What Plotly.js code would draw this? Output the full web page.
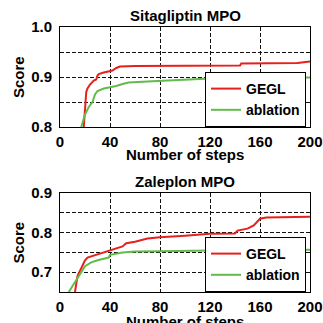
<!DOCTYPE html>
<html><head><meta charset="utf-8">
<script src="https://cdn.plot.ly/plotly-3.0.1.min.js"></script>
<style>body{margin:0;padding:0;background:#fff}#c{width:323px;height:323px}</style>
</head><body><div id="c"></div>
<script>
// Sitagliptin MPO
const sitaGeglX = [19, 20, 21, 22, 24, 27, 29, 30, 31, 35, 40, 42, 45, 48, 60, 100, 144, 145, 180, 190, 200];
const sitaGeglY = [0.800, 0.850, 0.870, 0.877, 0.885, 0.893, 0.895, 0.903, 0.906, 0.909, 0.912, 0.913, 0.918, 0.921, 0.922, 0.923, 0.923, 0.927, 0.927, 0.928, 0.931];
const sitaAblX = [17, 20, 23, 26, 28, 30, 35, 40, 45, 50, 55, 70, 80, 100, 120, 150, 200];
const sitaAblY = [0.800, 0.825, 0.840, 0.850, 0.865, 0.872, 0.877, 0.879, 0.882, 0.886, 0.889, 0.891, 0.892, 0.895, 0.897, 0.898, 0.899];
// Zaleplon MPO
const zalGeglX = [12, 14, 17, 20, 22, 30, 40, 50, 53, 60, 70, 80, 100, 120, 140, 142, 150, 155, 160, 165, 200];
const zalGeglY = [0.650, 0.690, 0.710, 0.730, 0.737, 0.745, 0.756, 0.765, 0.773, 0.777, 0.785, 0.788, 0.792, 0.797, 0.798, 0.805, 0.810, 0.818, 0.835, 0.838, 0.840];
const zalAblX = [7, 10, 15, 20, 25, 30, 39, 40, 50, 60, 80, 120, 200];
const zalAblY = [0.650, 0.665, 0.690, 0.715, 0.725, 0.730, 0.737, 0.744, 0.750, 0.752, 0.753, 0.755, 0.757];

const xTitle = 'Number of steps', yTitle = 'Score';
const RED = '#e8201c', GREEN = '#62bb4a';
const FAM = 'Liberation Sans, Arial, sans-serif';
const TICKF = {family: FAM, size: 15, color: '#000', weight: 'bold'};
const TITLEF = {family: FAM, size: 15, color: '#000', weight: 'bold'};

const traces = [
  {x: sitaGeglX, y: sitaGeglY, name: 'GEGL', mode: 'lines', line: {color: RED, width: 2}, xaxis: 'x', yaxis: 'y', legend: 'legend'},
  {x: sitaAblX, y: sitaAblY, name: 'ablation', mode: 'lines', line: {color: GREEN, width: 2}, xaxis: 'x', yaxis: 'y', legend: 'legend'},
  {x: zalGeglX, y: zalGeglY, name: 'GEGL', mode: 'lines', line: {color: RED, width: 2}, xaxis: 'x2', yaxis: 'y2', legend: 'legend2'},
  {x: zalAblX, y: zalAblY, name: 'ablation', mode: 'lines', line: {color: GREEN, width: 2}, xaxis: 'x2', yaxis: 'y2', legend: 'legend2'}
];

const GD = '4px,2px';
function xa(anchor) {
  return {anchor: anchor, range: [0, 200], dtick: 40, tick0: 0, showline: true, mirror: true, linecolor: '#000', linewidth: 1,
    showgrid: true, gridcolor: '#111', griddash: GD, gridwidth: 1, zeroline: false, ticks: '', tickfont: TICKF,
    ticklabelstandoff: 1, domain: [0, 1]};
}
function ya(anchor, range, dom) {
  return {anchor: anchor, range: range, dtick: 0.1, tick0: 0, tickformat: '.1f', showline: true, mirror: true, linecolor: '#000', linewidth: 1,
    showgrid: true, gridcolor: '#111', griddash: GD, gridwidth: 1, zeroline: false, ticks: '', tickfont: TICKF,
    ticklabelstandoff: 4,
    minor: {dtick: 0.05, tick0: 0, showgrid: true, gridcolor: '#111', griddash: GD, gridwidth: 1},
    domain: dom};
}

const legStyle = {font: {family: FAM, size: 14, color: '#000', weight: 'bold'}, bordercolor: '#000', borderwidth: 1, bgcolor: '#fff',
  xanchor: 'right', yanchor: 'bottom', tracegroupgap: 0, itemwidth: 30};

const layout = {
  width: 323, height: 323, margin: {l: 60, r: 13, t: 27, b: 31},
  paper_bgcolor: '#fff', plot_bgcolor: '#fff', showlegend: true,
  xaxis: xa('y'), yaxis: ya('x', [0.8, 1.0], [0.6226, 1]),
  xaxis2: xa('y2'), yaxis2: ya('x2', [0.65, 0.9], [0, 0.3736]),
  legend: Object.assign({x: 0.984, y: 0.6226}, legStyle),
  legend2: Object.assign({x: 0.984, y: 0}, legStyle),
  annotations: [
    {text: 'Sitagliptin MPO', xref: 'paper', yref: 'paper', x: 0.5, y: 1, yanchor: 'bottom', yshift: 1, showarrow: false, font: TITLEF},
    {text: 'Zaleplon MPO', xref: 'paper', yref: 'paper', x: 0.5, y: 0.3736, yanchor: 'bottom', yshift: 1, showarrow: false, font: TITLEF},
    {text: xTitle, xref: 'paper', yref: 'paper', x: 0.5, y: 0.6226, yanchor: 'middle', yshift: -27, showarrow: false, font: TITLEF},
    {text: xTitle, xref: 'paper', yref: 'paper', x: 0.5, y: 0, yanchor: 'middle', yshift: -29, showarrow: false, font: TITLEF},
    {text: yTitle, textangle: -90, xref: 'paper', yref: 'paper', x: 0, xanchor: 'center', xshift: -42, y: 0.8113, yanchor: 'middle', showarrow: false, font: TITLEF},
    {text: yTitle, textangle: -90, xref: 'paper', yref: 'paper', x: 0, xanchor: 'center', xshift: -42, y: 0.1868, yanchor: 'middle', showarrow: false, font: TITLEF}
  ]
};

Plotly.newPlot('c', traces, layout, {displayModeBar: false, staticPlot: true});
</script></body></html>
